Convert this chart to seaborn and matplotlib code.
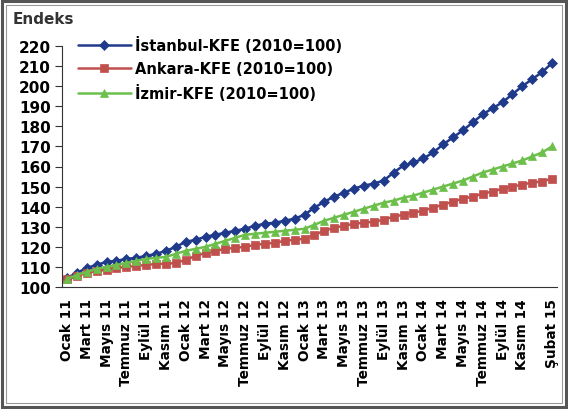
import pandas as pd
import matplotlib
matplotlib.use("Agg")
import matplotlib.pyplot as plt
import seaborn as sns
from matplotlib.patches import Rectangle

# monthly index values, Ocak 2011 .. Şubat 2015 (50 months)
istanbul = [104.5, 107, 109.5, 111, 112.5, 113, 114, 114.5, 115.5, 116.5, 118, 120,
            122.5, 123.5, 125, 126, 127, 128, 129, 130.5, 131.5, 132, 133, 134,
            136, 139.5, 142.5, 145, 147, 149, 150.5, 151.5, 153, 157, 160.5, 162,
            164, 167, 171, 174.5, 178, 182, 186, 189, 192, 196, 200, 203.5,
            207, 211.5]
ankara = [104, 105.5, 107, 108, 108.5, 109.5, 110, 110.5, 111, 111.5, 111.5, 112,
          113.5, 115.5, 117, 118, 119, 119.5, 120, 121, 121.5, 122, 123, 123.5,
          124, 126, 128, 129.5, 130.5, 131.5, 132, 132.5, 133.5, 135, 136, 137,
          138, 139.5, 141, 142.5, 144, 145, 146.5, 147.5, 149, 150, 151, 152,
          152.5, 154]
izmir = [104, 106, 107.5, 109, 110, 111, 112, 113, 114, 114.5, 115, 116.5,
         118, 119, 120, 121.5, 123, 124.5, 126, 126.5, 127, 127.5, 128, 128.5,
         129, 131, 133, 134.5, 136, 137.5, 139, 140.5, 142, 143, 144.5, 145.5,
         147, 148.5, 150, 151.5, 153, 155, 157, 158.5, 160, 161.5, 163, 165,
         167, 170]

aylar = ["Ocak", "Şubat", "Mart", "Nisan", "Mayıs", "Haziran", "Temmuz",
         "Ağustos", "Eylül", "Ekim", "Kasım", "Aralık"]
yillar = ["11", "12", "13", "14", "15"]
donemler = [f"{aylar[i % 12]} {yillar[i // 12]}" for i in range(50)]
etiket_yerleri = list(range(0, 47, 2)) + [49]

seriler = ["İstanbul-KFE (2010=100)", "Ankara-KFE (2010=100)", "İzmir-KFE (2010=100)"]
renkler = {seriler[0]: "#1F3A8A", seriler[1]: "#C0504D", seriler[2]: "#6CBF4A"}
isaretler = {seriler[0]: "D", seriler[1]: "s", seriler[2]: "^"}

df = pd.concat([
    pd.DataFrame({"t": range(50), "deger": vals, "seri": name})
    for name, vals in zip(seriler, [istanbul, ankara, izmir])
])

sns.set_style("white")
plt.rcParams["font.family"] = ["DejaVu Sans"]
plt.rcParams["text.color"] = "black"

fig = plt.figure(figsize=(5.68, 4.10), dpi=100)
ax = fig.add_axes([62 / 568, 1 - 288 / 410, (557 - 62) / 568, (288 - 47) / 410])

for name in seriler:
    sub = df[df["seri"] == name]
    sns.lineplot(data=sub, x="t", y="deger", ax=ax, color=renkler[name],
                 marker=isaretler[name], markersize=4.8 if name == seriler[0] else 5.3,
                 markeredgewidth=0.5, markeredgecolor=renkler[name],
                 linewidth=1.8, label=name)

ax.set_xlim(-0.5, 49.5)
ax.set_ylim(100, 220)
ax.set_yticks(range(100, 221, 10))
ax.set_xticks(etiket_yerleri)
ax.set_xticklabels([donemler[i] for i in etiket_yerleri], rotation=90)
ax.set_xticks([i + 0.5 for i in range(-1, 50)], minor=True)
ax.tick_params(axis="x", which="major", length=0, pad=8, labelcolor="black")
ax.tick_params(axis="x", which="minor", length=4, width=0.8, color="#333333", direction="inout")
ax.tick_params(axis="y", length=5, width=0.8, color="#333333", direction="out", pad=3,
               left=True, labelcolor="black")
for lab in ax.get_xticklabels():
    lab.set_fontweight("bold")
    lab.set_fontsize(9.8)
for lab in ax.get_yticklabels():
    lab.set_fontweight("bold")
    lab.set_fontsize(11)
ax.set_xlabel("")
ax.set_ylabel("")
for side in ["top", "right"]:
    ax.spines[side].set_visible(False)
for side in ["left", "bottom"]:
    ax.spines[side].set_color("#333333")
    ax.spines[side].set_linewidth(0.8)

leg = ax.legend(loc="upper left", bbox_to_anchor=(78 / 568, 1 - 37 / 410),
                bbox_transform=fig.transFigure, frameon=False, borderaxespad=0,
                borderpad=0, handlelength=3.6, handletextpad=0.3, labelspacing=0.55,
                prop={"weight": "bold", "size": 10.5})
for t in leg.get_texts():
    t.set_color("black")

fig.text(13 / 568, 1 - 20 / 410, "Endeks", fontsize=11, fontweight="bold",
         color="#333333", va="center", ha="left")

fig.patches.append(Rectangle((0.004, 0.005), 0.992, 0.99, transform=fig.transFigure,
                             fill=False, edgecolor="#555555", linewidth=2.2))
fig.patches.append(Rectangle((0.011, 0.014), 0.978, 0.972, transform=fig.transFigure,
                             fill=False, edgecolor="#999999", linewidth=0.8))

fig.savefig("out.png", dpi=100)
